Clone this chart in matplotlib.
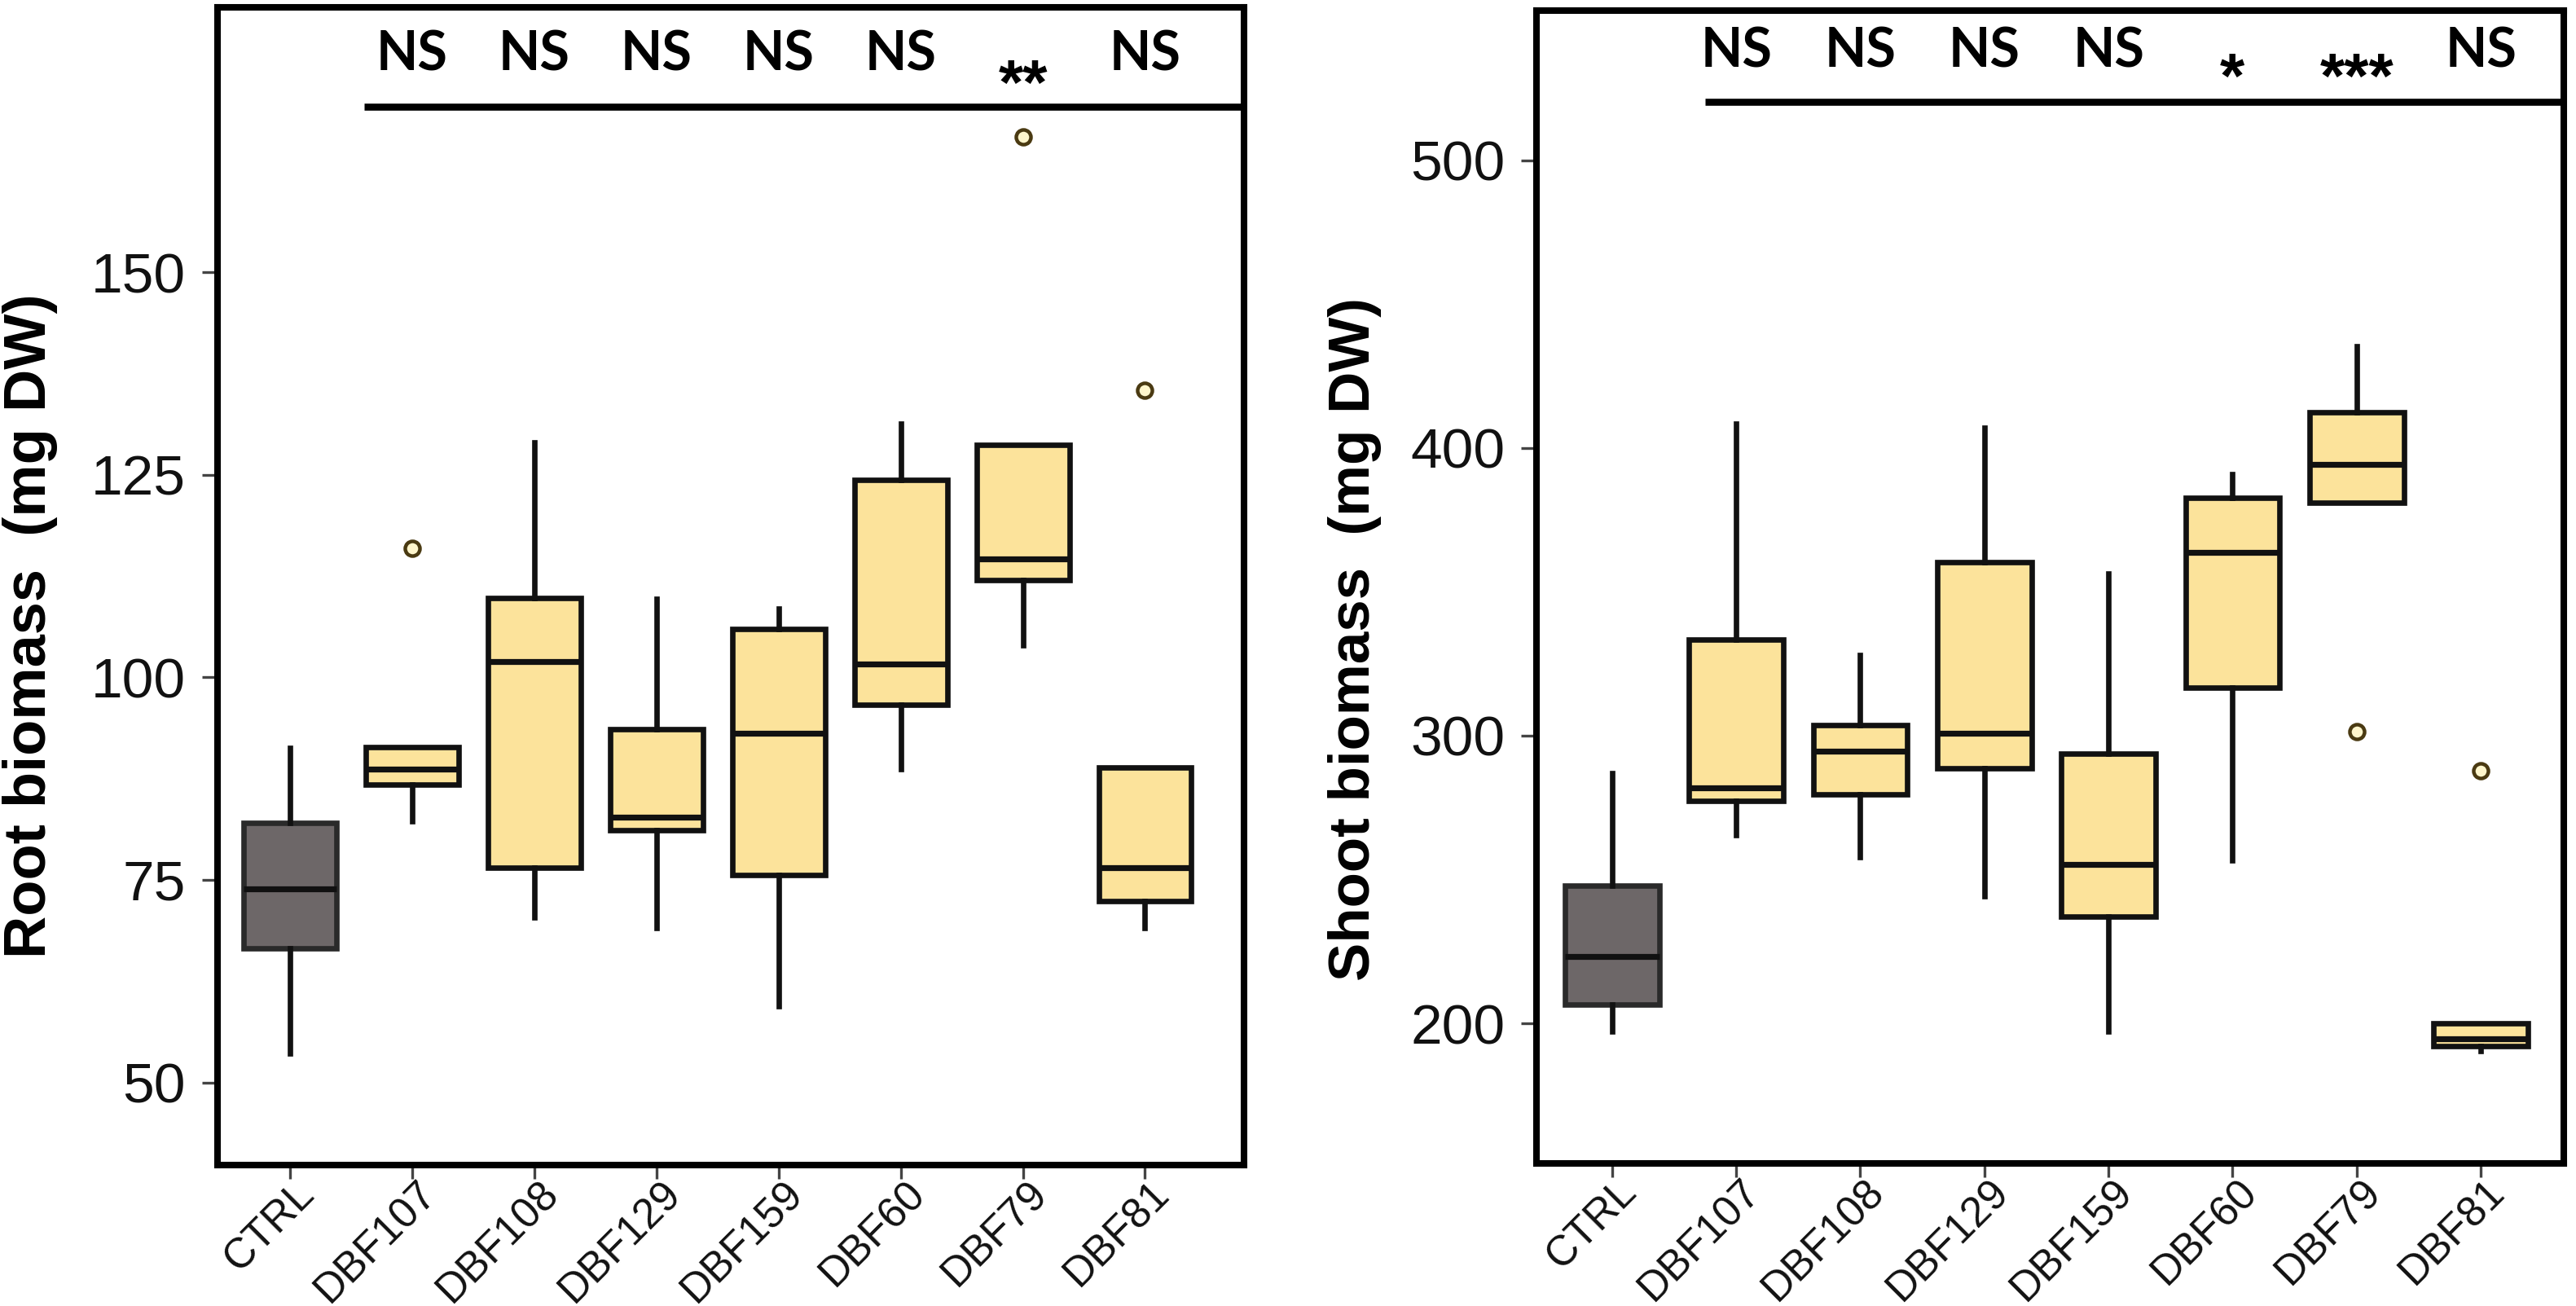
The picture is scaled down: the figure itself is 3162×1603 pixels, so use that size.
import matplotlib
matplotlib.use('Agg')
import matplotlib.pyplot as plt
import matplotlib.transforms as mtransforms

# ---------------- data ----------------
categories = ['CTRL', 'DBF107', 'DBF108', 'DBF129', 'DBF159', 'DBF60', 'DBF79', 'DBF81']

# Root biomass (mg DW)
root_whislo = [53.6, 82.2, 70.4, 69.1, 59.4, 88.7, 104.0, 69.1]
root_q1     = [66.6, 86.8, 76.5, 81.1, 75.6, 96.6, 112.0, 72.4]
root_med    = [73.9, 88.7, 101.9, 82.7, 93.1, 101.6, 114.6, 76.5]
root_q3     = [82.0, 91.4, 109.8, 93.6, 106.0, 124.4, 128.7, 88.9]
root_whishi = [91.3, 91.4, 129.0, 109.7, 108.5, 131.3, 128.7, 88.9]
root_fliers = [[], [115.9], [], [], [], [], [166.7], [135.4]]
root_sig    = ['NS', 'NS', 'NS', 'NS', 'NS', '**', 'NS']
root_yticks = [50, 75, 100, 125, 150]

# Shoot biomass (mg DW)
shoot_whislo = [197.2, 265.4, 257.8, 244.3, 197.2, 256.7, 380.9, 190.5]
shoot_q1     = [206.6, 277.3, 279.6, 288.6, 237.1, 316.8, 380.9, 192.0]
shoot_med    = [223.3, 282.0, 294.6, 300.9, 255.2, 363.8, 394.2, 194.5]
shoot_q3     = [248.0, 333.5, 303.8, 360.4, 293.7, 382.6, 412.4, 200.0]
shoot_whishi = [287.1, 408.4, 328.0, 407.2, 356.4, 391.0, 435.5, 200.0]
shoot_fliers = [[], [], [], [], [], [], [301.3], [287.8]]
shoot_sig    = ['NS', 'NS', 'NS', 'NS', '*', '***', 'NS']
shoot_yticks = [200, 300, 400, 500]

# ---------------- style ----------------
YELLOW = '#FCE39B'
GREY = '#6D6768'
EDGE = '#111111'
plt.rcParams['font.family'] = ['Liberation Sans', 'DejaVu Sans']

fig = plt.figure(figsize=(15.81, 8.015), dpi=200)
axL = fig.add_axes([0.0843, 0.1079, 0.3986, 0.8865])
axR = fig.add_axes([0.5965, 0.1092, 0.3988, 0.8827])


def draw_panel(ax, whislo, q1, med, q3, whishi, fliers, sig, yticks, ylabel,
               ylim, xlim, label_xy, label_size, sig_line_y, sig_text_y, sig_start,
               star_drop):
    positions = list(range(1, len(categories) + 1))
    stats = []
    for i, c in enumerate(categories):
        stats.append(dict(whislo=whislo[i], q1=q1[i], med=med[i], q3=q3[i],
                          whishi=whishi[i], fliers=fliers[i], label=c))
    bp = ax.bxp(stats, positions=positions, widths=0.76, patch_artist=True,
                showcaps=False, manage_ticks=False,
                boxprops=dict(linewidth=2.4, edgecolor=EDGE),
                medianprops=dict(color=EDGE, linewidth=2.6),
                whiskerprops=dict(color=EDGE, linewidth=2.4),
                flierprops=dict(marker='o', markersize=6.5, markerfacecolor='#FFF6CC',
                                markeredgecolor='#4A3A12', markeredgewidth=1.6,
                                linestyle='none'))
    for i, patch in enumerate(bp['boxes']):
        patch.set_facecolor(GREY if i == 0 else YELLOW)
        if i == 0:
            patch.set_edgecolor('#2A2A2A')
    ax.set_xlim(*xlim)
    ax.set_ylim(*ylim)
    ax.tick_params(axis='y', length=7, width=1.2, color='#444444', pad=7)
    ax.tick_params(axis='x', length=6, width=1.2, color='#444444', pad=4)
    ax.set_xticks(positions)
    ax.set_xticklabels(categories, rotation=45, ha='right', va='center',
                       rotation_mode='anchor', fontsize=18.5, color='#111111')
    ax.set_yticks(yticks)
    ax.set_yticklabels([str(t) for t in yticks], fontsize=25, color='#111111')
    offset = mtransforms.ScaledTranslation(8 / 72, 0, fig.dpi_scale_trans)
    for lab in ax.get_xticklabels():
        lab.set_transform(lab.get_transform() + offset)
    for s in ax.spines.values():
        s.set_linewidth(2.9)
        s.set_color('black')
    ax.set_ylabel(ylabel, fontsize=label_size, fontweight='bold', va='center')
    ax.yaxis.set_label_coords(*label_xy)

    # significance bar and labels
    trans = mtransforms.blended_transform_factory(ax.transData, ax.transAxes)
    ax.plot([sig_start, xlim[1] + 1], [sig_line_y, sig_line_y], color='black',
            lw=3.1, solid_capstyle='butt', transform=trans, clip_on=True)
    for j, s in enumerate(sig):
        x = positions[j + 1]
        if '*' in s:
            t = trans + mtransforms.ScaledTranslation(0, -star_drop / 72, fig.dpi_scale_trans)
            ax.text(x, sig_text_y, s, transform=t, ha='center', va='center',
                    fontsize=28, fontweight='bold', family=['Liberation Sans', 'DejaVu Sans'])
        else:
            ax.text(x, sig_text_y, s, transform=trans, ha='center', va='center',
                    fontsize=24, fontweight='bold', family=['Lato', 'DejaVu Sans'])


draw_panel(axL, root_whislo, root_q1, root_med, root_q3, root_whishi, root_fliers,
           root_sig, root_yticks, 'Root biomass  (mg DW)',
           ylim=(39.8, 182.7), xlim=(0.403, 8.81), label_xy=(-0.1825, 0.466),
           label_size=26, sig_line_y=0.9138, sig_text_y=0.9588, sig_start=1.605,
           star_drop=14.5)
draw_panel(axR, shoot_whislo, shoot_q1, shoot_med, shoot_q3, shoot_whishi, shoot_fliers,
           shoot_sig, shoot_yticks, 'Shoot biomass  (mg DW)',
           ylim=(151.3, 552.1), xlim=(0.392, 8.67), label_xy=(-0.177, 0.4544),
           label_size=25.5, sig_line_y=0.9208, sig_text_y=0.9641, sig_start=1.75,
           star_drop=13)

fig.savefig('out.png', dpi=200, facecolor='white')
